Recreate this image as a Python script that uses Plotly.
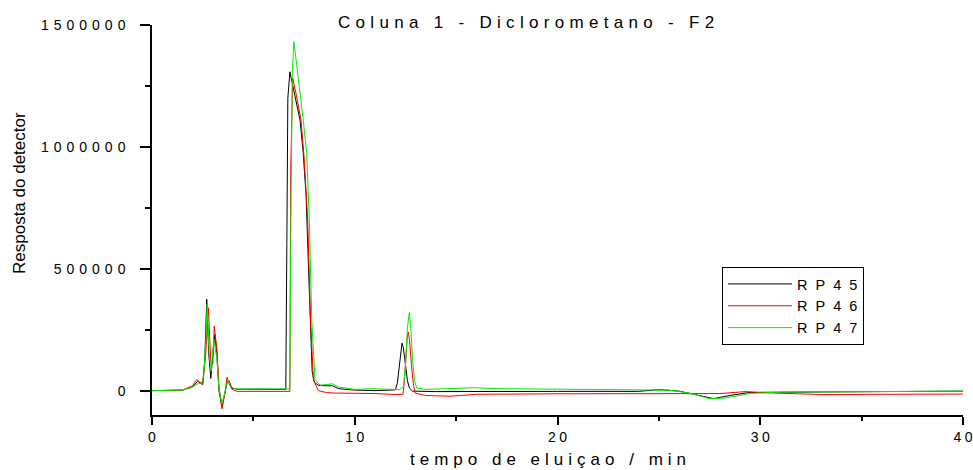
import plotly.graph_objects as go

# ---------------- data ----------------
t_rp45 = [0, 1.5, 2.0, 2.25, 2.4, 2.5, 2.6, 2.7, 2.8, 2.9, 3.0, 3.1, 3.2, 3.3, 3.45, 3.6, 3.7, 3.8,
          3.95, 4.2, 5, 6, 6.6, 6.65, 6.7, 6.8, 6.9, 7.1, 7.3, 7.46, 7.6, 7.7, 7.8, 7.9, 8.0, 8.2,
          8.6, 8.9, 9.2, 10, 11, 11.8, 12.0, 12.1, 12.2, 12.27, 12.33, 12.4, 12.5, 12.6, 12.7,
          12.85, 14, 16, 20, 24, 25, 26, 27, 27.7, 28.5, 29.5, 30, 35, 40]
v_rp45 = [0, 2000, 15000, 38000, 30000, 25000, 120000, 375000, 150000, 50000, 150000, 230000,
          150000, 0, -65000, -10000, 30000, 40000, 10000, 6000, 5000, 5000, 5000, 600000, 1200000,
          1308000, 1270000, 1200000, 1110000, 974000, 800000, 550000, 291000, 80000, 35000, 22000,
          20000, 20000, 8000, 2000, 0, 0, 3000, 30000, 110000, 175000, 195000, 175000, 100000,
          40000, 10000, -2000, -4000, -3000, -3000, -3000, 4000, -2000, -20000, -33000, -20000,
          -7000, -7000, -4000, -2000]

t_rp46 = [0, 1.5, 2.0, 2.2, 2.35, 2.5, 2.65, 2.78, 2.9, 3.0, 3.07, 3.2, 3.3, 3.45, 3.6, 3.7, 3.8,
          3.95, 4.2, 5, 6, 6.8, 6.84, 6.9, 6.94, 7.1, 7.35, 7.5, 7.68, 7.82, 7.96, 8.2, 8.6, 9.0,
          10, 11, 12.0, 12.38, 12.45, 12.53, 12.6, 12.65, 12.72, 12.8, 12.9, 12.98, 13.5, 14.7,
          16, 20, 25, 26.5, 28, 29.3, 30, 33, 40]
v_rp46 = [0, 2000, 20000, 45000, 35000, 30000, 150000, 340000, 120000, 110000, 265000, 170000,
          20000, -75000, -10000, 55000, 30000, 5000, -3000, -3000, -3000, -3000, 900000, 1200000,
          1282000, 1220000, 1110000, 960000, 700000, 291000, 45000, 0, -8000, -10000, -10000,
          -12000, -16000, -15000, 40000, 160000, 230000, 240000, 190000, 100000, 20000, -10000,
          -20000, -23000, -15000, -13000, -12000, -12000, -12000, -4000, -8000, -16000, -14000]

t_rp47 = [0, 1.5, 2.0, 2.3, 2.45, 2.55, 2.65, 2.72, 2.82, 2.92, 3.05, 3.2, 3.3, 3.45, 3.6, 3.75,
          3.85, 4.0, 4.3, 5, 6, 6.8, 6.85, 6.92, 7.0, 7.27, 7.46, 7.63, 7.76, 7.88, 8.04, 8.3, 8.7,
          8.9, 9.2, 10, 10.8, 11.5, 12.2, 12.4, 12.5, 12.6, 12.69, 12.77, 12.85, 12.95, 13.06,
          13.5, 15, 15.9, 17, 20, 24, 25.5, 26.5, 27.5, 28.3, 29.5, 31, 35, 40]
v_rp47 = [0, 2000, 15000, 30000, 30000, 60000, 200000, 355000, 150000, 80000, 210000, 130000,
          10000, -55000, -5000, 45000, 25000, 10000, 7000, 7000, 7000, 7000, 700000, 1300000,
          1432000, 1247000, 1110000, 974000, 700000, 291000, 45000, 22000, 25000, 28000, 15000,
          5000, 8000, 5000, 4000, 15000, 100000, 260000, 320000, 250000, 130000, 40000, 10000,
          5000, 8000, 12000, 8000, 5000, 4000, 2000, -10000, -33000, -30000, -12000, -6000,
          -3000, -2000]

series_names = ["RP45", "RP46", "RP47"]
series_colors = ["#000000", "#ff0000", "#00ee00"]

x_tickvals = [0, 10, 20, 30, 40]
y_tickvals = [0, 500000, 1000000, 1500000]

title_text = "Coluna 1 - Diclorometano - F2"
x_title = "tempo de eluiçao / min"
y_title = "Resposta do detector"


def spaced(s, ls):
    # letter-spaced text (no trailing gap after the last character)
    if len(s) < 2:
        return s
    return f'<span style="letter-spacing:{ls}px">{s[:-1]}</span>{s[-1]}'


FONT = "Liberation Sans, Arial, sans-serif"

fig = go.Figure()
for name, tt, vv, col in zip(series_names, [t_rp45, t_rp46, t_rp47],
                             [v_rp45, v_rp46, v_rp47], series_colors):
    fig.add_trace(go.Scatter(x=tt, y=vv, mode="lines", name=spaced(name, 8),
                             line=dict(color=col, width=1)))


def px_x(p):
    return (p - 152) / 811


def px_y(p):
    return (415 - p) / 390


fig.update_layout(
    width=973, height=470,
    margin=dict(l=152, r=10, t=25, b=55),
    paper_bgcolor="white", plot_bgcolor="white",
    font=dict(family=FONT, color="#000000"),
    showlegend=True,
    legend=dict(x=px_x(722), y=px_y(267), xanchor="left", yanchor="top",
                bordercolor="#000000", borderwidth=1, bgcolor="white",
                font=dict(size=14.5), tracegroupgap=0, itemwidth=64),
    annotations=[
        dict(text=spaced(title_text, 5.3), x=px_x(526), y=px_y(22), xanchor="center",
             yanchor="middle", xref="paper", yref="paper", showarrow=False,
             font=dict(size=17)),
        dict(text=spaced(x_title, 5), x=px_x(548), y=px_y(459), xanchor="center",
             yanchor="middle", xref="paper", yref="paper", showarrow=False,
             font=dict(size=17)),
        dict(text=y_title, x=px_x(19), y=px_y(193), textangle=-90, xanchor="center",
             yanchor="middle", xref="paper", yref="paper", showarrow=False,
             font=dict(size=17)),
    ],
)

fig.update_xaxes(range=[0, 40], showgrid=False, zeroline=False, showline=True,
                 automargin=False, ticklabeloverflow="allow",
                 linecolor="#000000", linewidth=1.5, ticks="outside", ticklen=8,
                 tickwidth=1.5, tickcolor="#000000",
                 tickmode="array", tickvals=x_tickvals,
                 ticktext=[spaced(str(v), 3.5) for v in x_tickvals],
                 tickfont=dict(size=14),
                 minor=dict(dtick=5, ticks="outside", ticklen=4, tickwidth=1.5,
                            tickcolor="#000000"))
fig.update_yaxes(range=[-100000, 1500000], showgrid=False, zeroline=False, showline=True,
                 automargin=False,
                 linecolor="#000000", linewidth=1.5, ticks="outside", ticklen=10,
                 tickwidth=1.5, tickcolor="#000000",
                 tickmode="array", tickvals=y_tickvals,
                 ticktext=[spaced(str(v), 5) for v in y_tickvals],
                 tickfont=dict(size=14), ticklabelstandoff=12,
                 minor=dict(dtick=250000, ticks="outside", ticklen=5, tickwidth=1.5,
                            tickcolor="#000000"))

fig.write_html("out.html")
